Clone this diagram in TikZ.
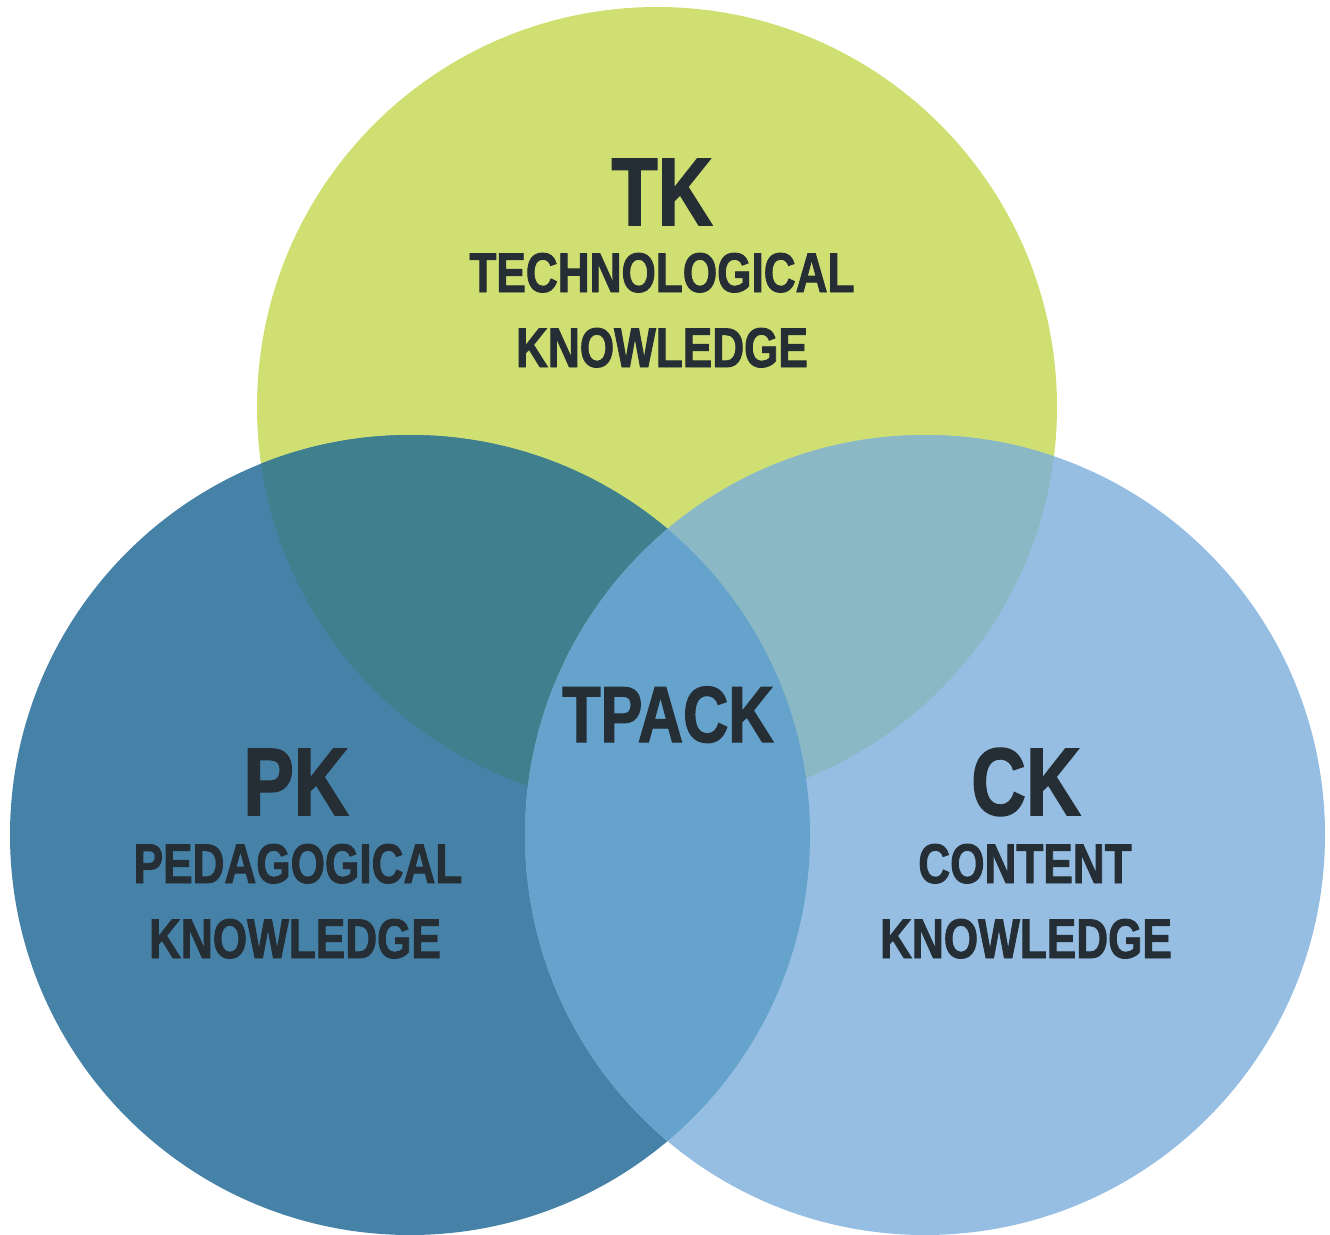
\documentclass[tikz,border=0pt]{standalone}
\usepackage{fontspec}
\setmainfont{Liberation Sans}[FakeStretch=0.79, BoldFeatures={FakeBold=1.6}]
\definecolor{tkfill}{HTML}{CFDF72}
\definecolor{pkfill}{HTML}{4681A7}
\definecolor{ckfill}{HTML}{96BEE3}
\definecolor{tpkfill}{HTML}{3F7F8E}
\definecolor{tckfill}{HTML}{8BB8C5}
\definecolor{pckfill}{HTML}{65A3CC}
\definecolor{labelink}{HTML}{252E34}
\tikzset{
  bigtag/.style={anchor=base, inner sep=0pt, text=labelink,
    font=\bfseries\fontsize{27.3}{30}\selectfont},
  midtag/.style={bigtag, font=\bfseries\fontsize{22.6}{26}\selectfont},
  smalltag/.style={bigtag, font=\bfseries\fontsize{15.9}{18}\selectfont}
}
\begin{document}
\begin{tikzpicture}
      \useasboundingbox (0,0) rectangle (13.30,12.34);
      \coordinate (T) at (6.57,8.27);
      \coordinate (P) at (4.10,3.99);
      \coordinate (C) at (9.25,3.99);
      % the three circles
      \fill[tkfill] (T) circle (4);
      \fill[pkfill] (P) circle (4);
      \fill[ckfill] (C) circle (4);
      % overlaps
      \begin{scope}
        \clip (T) circle (4);
        \fill[tpkfill] (P) circle (4);
        \fill[tckfill] (C) circle (4);
      \end{scope}
      \begin{scope}
        \clip (P) circle (4);
        \fill[pckfill] (C) circle (4);
      \end{scope}
      \draw
        (6.62,10.09) node[bigtag] (tk){TK}
        (6.62,9.42) node[smalltag] (tkname){TECHNOLOGICAL}
        (6.62,8.67) node[smalltag] (tkword){KNOWLEDGE}
        (6.68,4.92) node[midtag] (tpack){TPACK}
        (2.96,4.19) node[bigtag] (pk){PK}
        (2.98,3.51) node[smalltag] (pkname){PEDAGOGICAL}
        (2.95,2.76) node[smalltag] (pkword){KNOWLEDGE}
        (10.26,4.19) node[bigtag] (ck){CK}
        (10.25,3.51) node[smalltag] (ckname){CONTENT}
        (10.26,2.76) node[smalltag] (ckword){KNOWLEDGE};
    \end{tikzpicture}
\end{document}
